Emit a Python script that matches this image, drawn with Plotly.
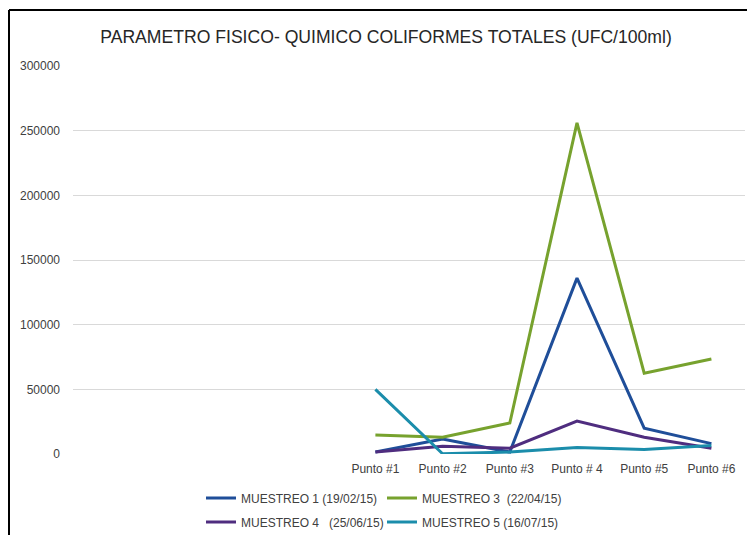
import plotly.graph_objects as go

categories = ["Punto #1", "Punto #2", "Punto #3", "Punto # 4", "Punto #5", "Punto #6"]
n_empty = 4  # empty category slots before Punto #1

series_names = ["MUESTREO 1 (19/02/15)", "MUESTREO 3  (22/04/15)",
                "MUESTREO 4   (25/06/15)", "MUESTREO 5 (16/07/15)"]
m1 = [1500, 11500, 1500, 136000, 20000, 8000]
m3 = [14700, 13000, 24000, 256000, 62500, 73500]
m4 = [1500, 6000, 4500, 25500, 13000, 4500]
m5 = [50000, 200, 1500, 5000, 3500, 6500]
colors = ["#1F4E99", "#77A22E", "#4F2D7F", "#1B8DAB"]
yticks = [0, 50000, 100000, 150000, 200000, 250000, 300000]

x_pos = [n_empty + i for i in range(len(categories))]

# page has an 8px body margin; work in page coords and shift
OFF = 8
W, H = 755 - OFF, 535 - OFF
L, R, T, B = 73 - OFF, 10, 66 - OFF, 535 - 454
pw, ph = W - L - R, H - T - B


def px(xp):
    return (xp - OFF - L) / pw


def py(yp):
    return (H - B - (yp - OFF)) / ph


def cx(xp):
    return (xp - OFF) / W


def cy(yp):
    return 1 - (yp - OFF) / H


fig = go.Figure()
legends = ["legend", "legend", "legend2", "legend2"]
for name, vals, col, lg in zip(series_names, [m1, m3, m4, m5], colors, legends):
    fig.add_trace(go.Scatter(x=x_pos, y=vals, mode="lines", name=name,
                             line=dict(color=col, width=3), legend=lg))

legend_style = dict(orientation="h", xanchor="left", yanchor="middle",
                    xref="container", yref="container",
                    entrywidth=136, entrywidthmode="pixels",
                    font=dict(size=12, color="#404040"), bgcolor="rgba(0,0,0,0)",
                    traceorder="normal", itemwidth=30)

fig.update_layout(
    width=W, height=H,
    margin=dict(l=L, r=R, t=T, b=B, autoexpand=False),
    paper_bgcolor="white", plot_bgcolor="white",
    font=dict(family="Liberation Sans", color="#595959", size=12),
    title=dict(text="PARAMETRO FISICO- QUIMICO COLIFORMES TOTALES (UFC/100ml)",
               xref="container", x=cx(386), xanchor="center",
               y=cy(37), yanchor="middle",
               font=dict(size=17.6, color="#262626", family="Liberation Sans")),
    xaxis=dict(range=[-0.5, n_empty + len(categories) - 0.5],
               tickvals=x_pos, ticktext=categories, showgrid=False,
               zeroline=False, showline=False, ticks="",
               ticklabelstandoff=6, automargin=False,
               tickfont=dict(size=12, color="#404040")),
    yaxis=dict(range=[0, 300000], tickvals=yticks,
               ticktext=[str(v) for v in yticks],
               showgrid=True, gridcolor="#D9D9D9", gridwidth=1,
               zeroline=False, showline=False, ticks="",
               ticklabelstandoff=12, automargin=False,
               tickfont=dict(size=12, color="#404040")),
    legend=dict(x=cx(201), y=cy(498), **legend_style),
    legend2=dict(x=cx(201), y=cy(522), **legend_style),
    showlegend=True,
)

# chart frame (left and top border visible)
fig.add_shape(type="line", xref="paper", yref="paper",
              x0=px(9), y0=py(10), x1=px(760), y1=py(10),
              line=dict(color="black", width=2))
fig.add_shape(type="line", xref="paper", yref="paper",
              x0=px(9), y0=py(10), x1=px(9), y1=py(540),
              line=dict(color="black", width=2))

fig.write_html("out.html")
